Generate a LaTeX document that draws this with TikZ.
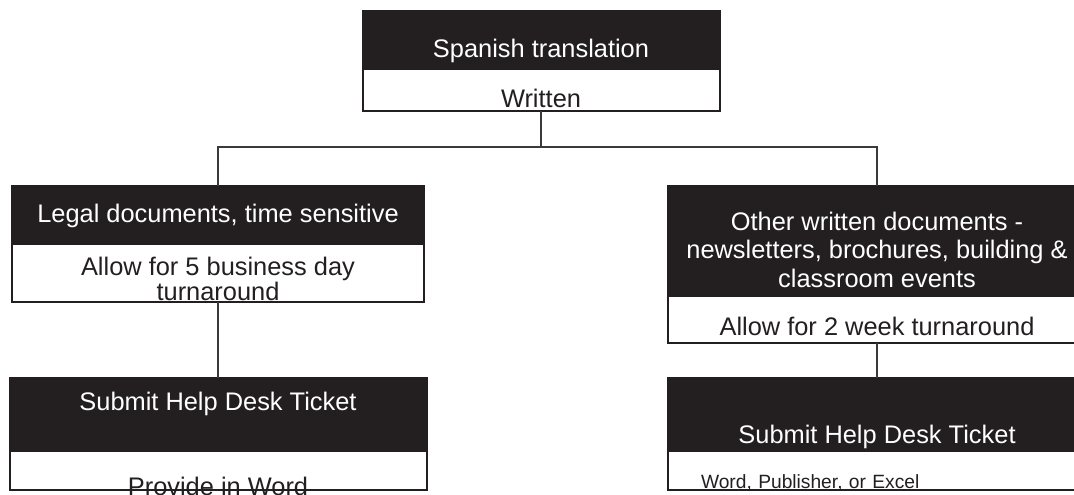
\documentclass[tikz,border=0pt]{standalone}
\usepackage{fontspec}
\setmainfont{Liberation Sans}
\usetikzlibrary{positioning}
\definecolor{boxblack}{HTML}{231F20}
\definecolor{rulegray}{HTML}{3A3A3A}
\tikzstyle{headbox} = [rectangle, draw=boxblack, fill=boxblack, text=white, line width=1pt, outer sep=0pt, inner sep=0pt, font=\fontsize{12.7}{14.2}\selectfont]
\tikzstyle{bodybox} = [rectangle, draw=boxblack, fill=white, text=boxblack, line width=1pt, outer sep=0pt, inner sep=0pt, font=\fontsize{12.7}{14.2}\selectfont]
\tikzstyle{connector} = [draw=rulegray, line width=0.6pt]

\begin{document}
\begin{tikzpicture}[node distance=0pt,
textdrop/.style={text height=#1, text depth=0pt, inner ysep=-0.5*#1},
textlift/.style={text height=0pt, text depth=#1, inner ysep=-0.5*#1}
]
\useasboundingbox (0,0) rectangle (537pt,-247pt);

\node (spanish) [headbox, minimum width=178.5pt, minimum height=29pt, textdrop=17pt, anchor=north] at (270.5pt,-5.5pt) {Spanish translation};
\node (written) [bodybox, minimum width=178.5pt, minimum height=21pt, textdrop=17pt, below=of spanish] {Written};
\node (legal) [headbox, minimum width=206pt, minimum height=29pt, textdrop=7pt, below=37.5pt of written, xshift=-161.5pt] {Legal documents, time sensitive};
\node (fiveday) [bodybox, minimum width=206pt, minimum height=29pt, textdrop=27pt, align=center, below=of legal] {Allow for 5 business day\\[-1.7pt]turnaround};
\node (other) [headbox, minimum width=209pt, minimum height=55pt, textdrop=46pt, align=center, below=37.5pt of written, xshift=168pt] {Other written documents -\\newsletters, brochures, building \&\\classroom events};
\node (twoweek) [bodybox, minimum width=209pt, minimum height=23.5pt, textdrop=15.5pt, below=of other] {Allow for 2 week turnaround};
\node (ticketl) [headbox, minimum width=208.5pt, minimum height=36.5pt, textlift=4.5pt, below=38pt of fiveday] {Submit Help Desk Ticket};
\node (wordl) [bodybox, minimum width=208.5pt, minimum height=19.5pt, textdrop=24.5pt, below=of ticketl] {Provide in Word};
\node (ticketr) [headbox, minimum width=209pt, minimum height=36.5pt, textdrop=28.5pt, below=17.5pt of twoweek] {Submit Help Desk Ticket};
\node (wordr) [bodybox, minimum width=209pt, minimum height=19.5pt, textdrop=17.5pt, below=of ticketr, font=\fontsize{9.6}{11}\selectfont, text width=176pt, inner xsep=16.5pt, align=left] {Word, Publisher, or Excel};

\draw [connector] (written.south) -- ++(0,-18pt) coordinate (fork);
\draw [connector] (fork) -| (legal.north);
\draw [connector] (fork) -| (other.north);
\draw [connector] (fiveday.south) -- (ticketl.north);
\draw [connector] (twoweek.south) -- (ticketr.north);
\end{tikzpicture}
\end{document}
